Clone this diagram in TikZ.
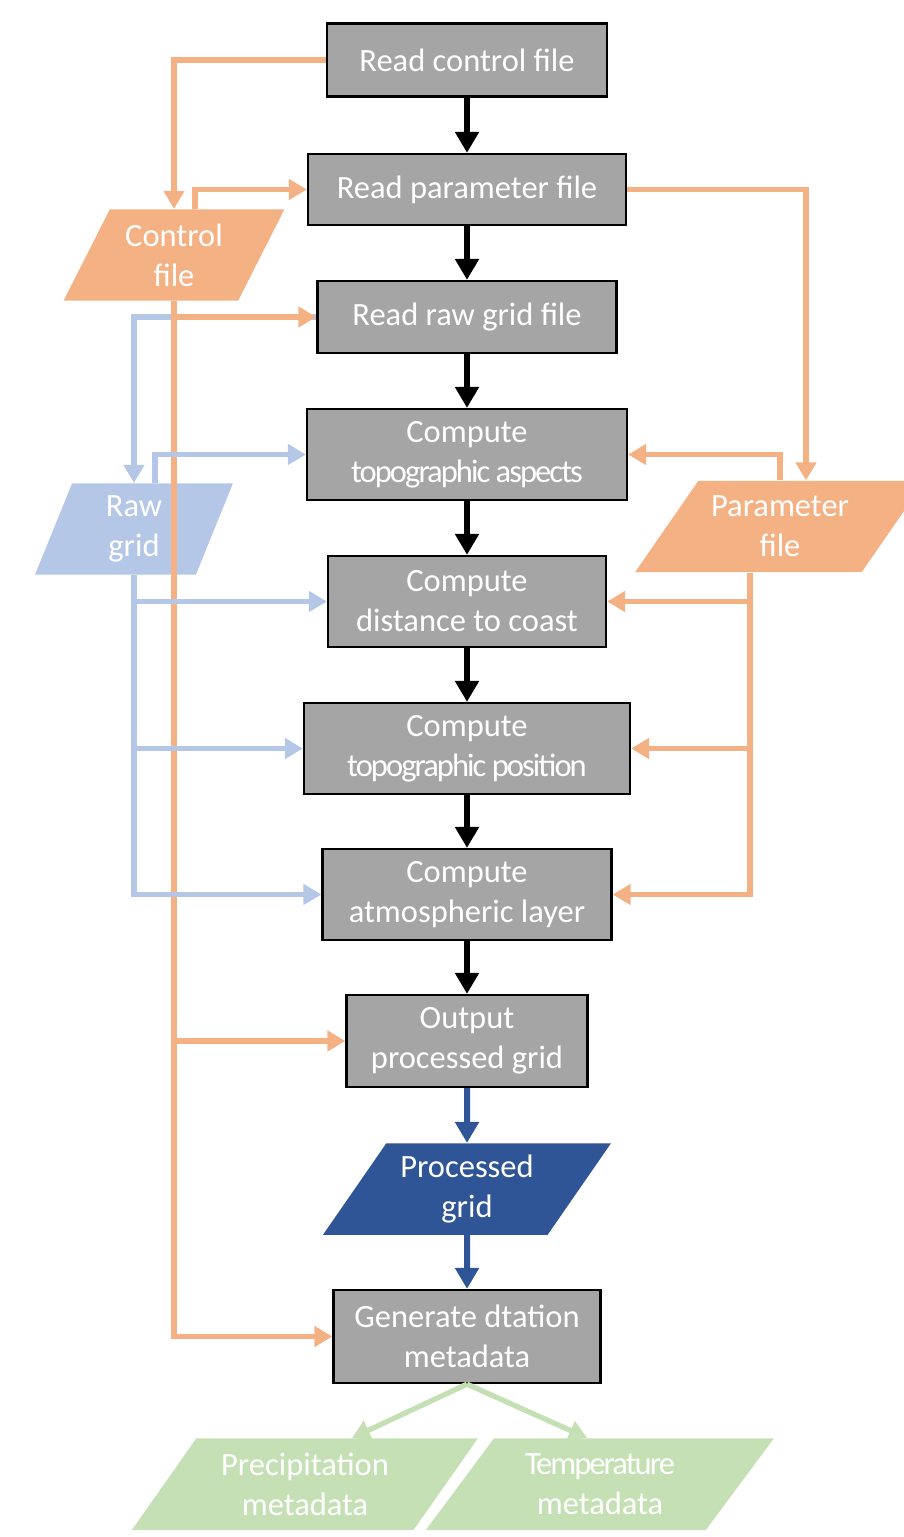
\documentclass[tikz,border=0pt]{standalone}
\usepackage{fontspec}
\setmainfont{Carlito}
\usetikzlibrary{arrows.meta,shapes.geometric,positioning,calc}
\definecolor{boxgray}{HTML}{A5A5A5}
\definecolor{fileorange}{HTML}{F4B183}
\definecolor{rawblue}{HTML}{B4C7E7}
\definecolor{procblue}{HTML}{2F5597}
\definecolor{metagreen}{HTML}{C5E0B4}
\newcommand{\squeeze}{\addfontfeatures{LetterSpace=-6}}

\begin{document}
\begin{tikzpicture}[x=0.02cm,y=-0.02cm,font=\fontsize{18.5}{22.7}\selectfont,
proc box/.style={rectangle,draw=black,line width=1.3pt,fill=boxgray,text=white,align=center,inner sep=2pt},
data box/.style={trapezium,trapezium stretches body,text=white,align=center,inner sep=1pt,minimum height=1.83cm},
flow/.style={line width=3.4pt,-{Triangle[length=0.42cm,width=0.46cm]}},
feed/.style={line width=3pt,-{Triangle[length=0.36cm,width=0.4cm]}}]
\useasboundingbox (0,0) rectangle (903,1537);
\begin{scope}[every node/.style={proc box}]
\node[minimum width=5.6cm,minimum height=1.46cm] (rcf) at (467,60) {Read control file};
\node[minimum width=6.36cm,minimum height=1.42cm] (rpf) at (467,189.5) {Read parameter file};
\node[minimum width=5.98cm,minimum height=1.44cm] (rgf) at (467,317) {Read raw grid file};
\node[minimum width=6.4cm,minimum height=1.82cm] (cta) at (467,454.5) {Compute\\{\squeeze topographic aspects}};
\node[minimum width=5.56cm,minimum height=1.82cm] (cdc) at (467,601.5) {Compute\\distance to coast};
\node[minimum width=6.52cm,minimum height=1.82cm] (ctp) at (467,748.5) {Compute\\{\squeeze topographic position}};
\node[minimum width=5.78cm,minimum height=1.82cm] (cal) at (467,894.5) {Compute\\atmospheric layer};
\node[minimum width=4.82cm,minimum height=1.84cm] (opg) at (467,1041) {Output\\processed grid};
\node[minimum width=5.34cm,minimum height=1.86cm] (gdm) at (467,1336.5) {Generate dtation\\metadata};
\end{scope}
\node[data box,fill=fileorange,minimum width=4.42cm,trapezium left angle=55,trapezium right angle=125] (ctrl) at (174,255) {Control\\file};
\node[data box,fill=rawblue,minimum width=3.96cm,trapezium left angle=62,trapezium right angle=118] (raw) at (134,529) {Raw\\grid};
\node[data box,fill=fileorange,minimum width=5.8cm,trapezium left angle=45.5,trapezium right angle=134.5] (param) at (780,526.5) {Parameter\\file};
\node[data box,fill=procblue,minimum width=5.76cm,trapezium left angle=48.5,trapezium right angle=131.5] (pgrid) at (467,1189) {Processed\\grid};
\node[data box,fill=metagreen,minimum width=6.92cm,trapezium left angle=45.8,trapezium right angle=134.2] (prec) at (305,1484) {Precipitation\\metadata};
\node[data box,fill=metagreen,minimum width=6.96cm,trapezium left angle=43.5,trapezium right angle=136.5] (temp) at (600,1484) {{\squeeze Temperature}\\metadata};
% main sequence
\draw[flow] (rcf) -- (rpf);
\draw[flow] (rpf) -- (rgf);
\draw[flow] (rgf) -- (cta);
\draw[flow] (cta) -- (cdc);
\draw[flow] (cdc) -- (ctp);
\draw[flow] (ctp) -- (cal);
\draw[flow] (cal) -- (opg);
\draw[flow,procblue] (opg) -- (pgrid);
\draw[flow,procblue] (pgrid) -- (gdm);
\draw[feed,metagreen] (gdm.south) -- ([xshift=0.94cm]prec.north);
\draw[feed,metagreen] (gdm.south) -- ([xshift=-0.26cm]temp.north);
% raw grid out of the reader
\draw[feed,rawblue] (rgf.west) -| (raw.north);
% control file
\draw[feed,fileorange] (rcf.west) -| (ctrl.north);
\draw[feed,fileorange] ([xshift=0.42cm]ctrl.north) |- (rpf.west);
\draw[feed,fileorange] (ctrl.south) |- (rgf.west);
\draw[feed,fileorange] (ctrl.south) |- (opg.west);
\draw[feed,fileorange] (ctrl.south) |- (gdm.west);
% parameter file
\draw[feed,fileorange] (rpf.east) -| ([xshift=0.52cm]param.north);
\draw[feed,fileorange] (param.north) |- (cta.east);
\draw[feed,fileorange] ([xshift=-0.6cm]param.south) |- (cdc.east);
\draw[feed,fileorange] ([xshift=-0.6cm]param.south) |- (ctp.east);
\draw[feed,fileorange] ([xshift=-0.6cm]param.south) |- (cal.east);
% raw grid
\draw[feed,rawblue] ([xshift=0.42cm]raw.north) |- (cta.west);
\draw[feed,rawblue] (raw.south) |- (cdc.west);
\draw[feed,rawblue] (raw.south) |- (ctp.west);
\draw[feed,rawblue] (raw.south) |- (cal.west);
\end{tikzpicture}
\end{document}
